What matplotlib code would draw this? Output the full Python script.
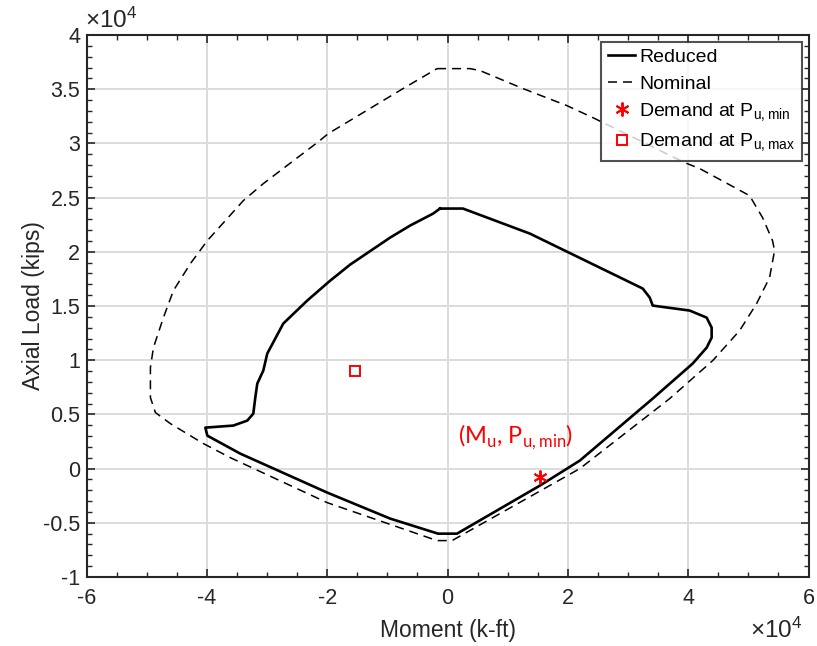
import matplotlib
matplotlib.use("Agg")
import matplotlib.pyplot as plt
from matplotlib.ticker import MultipleLocator, FuncFormatter

plt.rcParams['font.family'] = ['Liberation Sans', 'DejaVu Sans']
plt.rcParams['mathtext.fontset'] = 'custom'
plt.rcParams['mathtext.rm'] = 'Liberation Sans'

# Reduced interaction diagram (moment k-ft, axial kips)
reduced_m = [-1240, 2570, 13690, 25310, 32450, 33610, 34110, 40250, 43070, 43900,
             43900, 43070, 40750, 34110, 21990, 15350, 1580, -1580, -9540, -20000,
             -34440, -39920, -40250, -35600, -33280, -32280, -31950, -31620, -30620,
             -29960, -27300, -23320, -19500, -16180, -9540, -6220, -2410, -1240]
reduced_p = [23990, 23990, 21680, 18540, 16610, 15780, 15040, 14580, 13930, 13010,
             12080, 11160, 9690, 6460, 740, -1570, -6000, -6000, -4610, -2210,
             1380, 3040, 3780, 3970, 4430, 5070, 6550, 7840, 9040,
             10610, 13380, 15500, 17340, 18820, 21310, 22420, 23520, 23990]

# Nominal interaction diagram
nominal_m = [-1740, 3730, 5390, 12530, 19830, 24150, 31950, 39420, 41910, 50210,
             52370, 54020, 54360, 53530, 51370, 48550, 44070, 36930, 21990, 750,
             -1740, -20000, -36100, -40580, -46060, -48550, -49380, -49380, -48880,
             -47220, -45560, -42740, -39920, -33940, -30620, -21660, -19830, -7390, -1740]
nominal_p = [36900, 36900, 36720, 35060, 33490, 32380, 30260, 28230, 27680, 25180,
             23150, 21030, 20110, 17620, 15220, 12730, 9960, 6460, 0, -6640,
             -6640, -3140, 1010, 2310, 4150, 5170, 6550, 9320, 11160,
             13930, 16420, 18910, 21030, 24720, 26290, 30070, 30900, 35060, 36900]

# Demand points
demand_min_m = [15350]
demand_min_p = [-740]
demand_max_m = [-15350]
demand_max_p = [9040]

xlim = (-60000, 60000)
ylim = (-10000, 40000)

fig = plt.figure(figsize=(8.17, 6.46), dpi=100)
ax = fig.add_axes([0.1059, 0.1068, 0.8837, 0.8390])

ax.plot(reduced_m, reduced_p, color='black', lw=1.9, label='Reduced', zorder=3)
ax.plot(nominal_m, nominal_p, color='black', lw=1.1, ls=(0, (5.9, 3.9)), label='Nominal', zorder=3)
ax.plot(demand_min_m, demand_min_p, ls='none', marker=(6, 2, 0), ms=10, mew=1.4,
        color='red', label=r'Demand at P$_{\mathregular{u,min}}$', zorder=4)
ax.plot(demand_max_m, demand_max_p, ls='none', marker='s', ms=7.5, mew=1.4,
        mfc='none', mec='red', label=r'Demand at P$_{\mathregular{u,max}}$', zorder=4)

ax.text(11370, 2900, r'(M$_{\mathregular{u}}$, P$_{\mathregular{u,min}}$)', color='red',
        fontsize=17, family=['Lato', 'DejaVu Sans'], ha='center', va='center')

ax.set_xlim(*xlim)
ax.set_ylim(*ylim)
ax.xaxis.set_major_locator(MultipleLocator(20000))
ax.xaxis.set_minor_locator(MultipleLocator(5000))
ax.yaxis.set_major_locator(MultipleLocator(5000))
ax.yaxis.set_minor_locator(MultipleLocator(1000))
fmt = FuncFormatter(lambda v, p: '%g' % (v / 1e4))
ax.xaxis.set_major_formatter(fmt)
ax.yaxis.set_major_formatter(fmt)

ax.grid(True, which='major', color='#dcdcdc', lw=1.4, zorder=0)
ax.set_axisbelow(True)
ax.tick_params(which='both', direction='in', top=True, right=True, color='#262626',
               labelsize=15.5, labelcolor='#262626')
ax.tick_params(axis='x', which='major', pad=8)
ax.tick_params(axis='y', which='major', pad=4.5)
ax.tick_params(which='major', length=6, width=1.2)
ax.tick_params(which='minor', length=3.5, width=1.0)
for s in ax.spines.values():
    s.set_color('#262626')
    s.set_linewidth(1.5)

ax.set_xlabel('Moment (k-ft)', fontsize=16.5, color='#262626')
ax.set_ylabel('Axial Load (kips)', fontsize=16.5, color='#262626')
ax.xaxis.set_label_coords(0.5, -0.078)
ax.yaxis.set_label_coords(-0.058, 0.5)

fig.text(85 / 817, 1 - 28 / 646, r'$\times\mathregular{10^4}$', fontsize=17.5, color='#262626',
         ha='left', va='baseline')
fig.text(802 / 817, 1 - 638 / 646, r'$\times\mathregular{10^4}$', fontsize=17.5, color='#262626',
         ha='right', va='baseline')

leg = ax.legend(loc='upper right', fontsize=14, frameon=True, fancybox=False,
                edgecolor='#262626', borderaxespad=0.35, handlelength=1.4,
                handletextpad=0.2, labelspacing=0.45, borderpad=0.35)
leg.get_frame().set_linewidth(1.5)

fig.savefig('out.png', dpi=100)
